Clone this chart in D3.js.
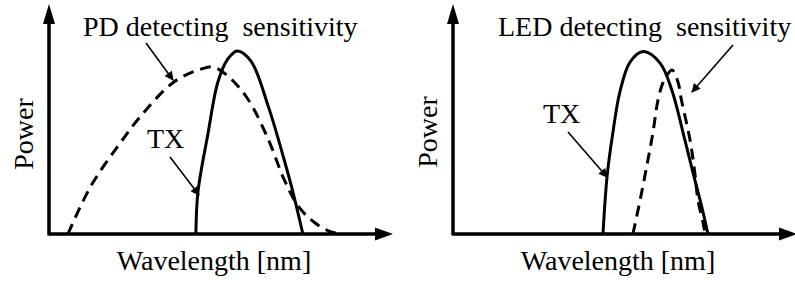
<!DOCTYPE html>
<html>
<head>
<meta charset="utf-8">
<script src="https://cdn.jsdelivr.net/npm/d3@7"></script>
<style>
  html, body { margin: 0; padding: 0; background: #fff; }
  svg { display: block; }
  text { fill: #000; white-space: pre; }
</style>
</head>
<body>
<svg id="chart" width="795" height="284" font-family="'Liberation Serif', 'Times New Roman', Times, serif"></svg>
<script>
// ---- Data (arbitrary units: wavelength 0..100, power 0..100) ----
const pdSensWavelength = [5.5, 12.2, 20.1, 26.7, 36.3, 44.2, 47.7, 52.0, 57.8, 63.7, 68.3, 72.4, 77.0, 82.0, 85.5];
const pdSensPower      = [0,   20.9, 38.3, 51.3, 66.1, 71.7, 72.6, 68.7, 58.7, 41.3, 23.9, 12.2, 5.2,  0.9,  0];

const txLeftWavelength = [42.7, 43.3, 46.2, 49.1, 52.0, 54.7, 58.7, 63.7, 68.3, 71.2, 73.8];
const txLeftPower      = [0,    18.3, 43.5, 66.1, 76.1, 79.6, 75.2, 55.7, 32.6, 16.5, 0];

const txRightWavelength = [43.6, 44.8, 46.5, 48.5, 51.5, 55.3, 60.2, 63.6, 67.4, 69.8, 72.3, 74.1];
const txRightPower      = [0,    25.2, 44.3, 61.7, 74.8, 79.3, 74.3, 62.6, 40.9, 26.5, 11.9, 0];

const ledSensWavelength = [52.3, 54.4, 56.3, 58.1, 59.6, 61.0, 62.2, 63.7, 65.4, 66.4, 68.9, 70.3, 71.2, 72.7, 73.3];
const ledSensPower      = [0,    14.8, 29.3, 43.9, 58.3, 65.7, 69.1, 71.3, 66.1, 58.3, 40.9, 26.5, 14.8, 4.8,  0];

const xAxisLabel = "Wavelength [nm]";
const yAxisLabel = "Power";
const leftTitle  = "PD detecting  sensitivity";
const rightTitle = "LED detecting  sensitivity";
const txLabel    = "TX";

const zip = (xs, ys) => xs.map((x, i) => ({ x, y: ys[i] }));

const svg = d3.select("#chart");

// arrowhead marker for annotation arrows
const defs = svg.append("defs");
defs.append("marker")
  .attr("id", "ah")
  .attr("viewBox", "0 0 10 10")
  .attr("refX", 9).attr("refY", 5)
  .attr("markerUnits", "userSpaceOnUse")
  .attr("markerWidth", 11).attr("markerHeight", 9)
  .attr("orient", "auto")
  .append("path").attr("d", "M0,0 L10,5 L0,10 Z").attr("fill", "#000");

function panel(cfg) {
  const x = d3.scaleLinear().domain([0, 100]).range([cfg.x0, cfg.x0 + 344]);
  const y = d3.scaleLinear().domain([0, 100]).range([234, 4]);
  const g = svg.append("g");

  const [xa, xb] = x.range();
  const [yb, ya] = y.range();
  // axes
  g.append("line").attr("x1", xa).attr("y1", yb).attr("x2", xb - 14).attr("y2", yb)
    .attr("stroke", "#000").attr("stroke-width", 3.5);
  g.append("line").attr("x1", xa).attr("y1", yb + 1.5).attr("x2", xa).attr("y2", ya + 16)
    .attr("stroke", "#000").attr("stroke-width", 3.5);
  g.append("path")
    .attr("d", `M${xb},${yb} L${xb - 18},${yb - 6.5} L${xb - 18},${yb + 6.5} Z`).attr("fill", "#000");
  g.append("path")
    .attr("d", `M${xa},${ya} L${xa - 6},${ya + 20} L${xa + 6},${ya + 20} Z`).attr("fill", "#000");

  const line = d3.line().x(d => x(d.x)).y(d => y(d.y)).curve(d3.curveCatmullRom.alpha(0.5));

  g.append("path").datum(cfg.dashed)
    .attr("d", line).attr("fill", "none").attr("stroke", "#000")
    .attr("stroke-width", 3).attr("stroke-dasharray", "11,7");
  g.append("path").datum(cfg.solid)
    .attr("d", line).attr("fill", "none").attr("stroke", "#000")
    .attr("stroke-width", 3).attr("stroke-linejoin", "round");

  // labels
  g.append("text").attr("x", cfg.titleX).attr("y", 36).attr("font-size", 28).text(cfg.title);
  g.append("text").attr("x", (xa + xb) / 2 - 7).attr("y", 270)
    .attr("text-anchor", "middle").attr("font-size", 28).text(xAxisLabel);
  g.append("text").attr("transform", `translate(${xa - 16},${cfg.powerY}) rotate(-90)`)
    .attr("text-anchor", "middle").attr("font-size", 28).text(yAxisLabel);
  g.append("text").attr("x", cfg.txX).attr("y", cfg.txY).attr("font-size", 28).text(txLabel);

  // annotation arrows
  cfg.arrows.forEach(a => {
    g.append("line").attr("x1", a[0]).attr("y1", a[1]).attr("x2", a[2]).attr("y2", a[3])
      .attr("stroke", "#000").attr("stroke-width", 1.6).attr("marker-end", "url(#ah)");
  });
}

panel({
  x0: 49,
  solid: zip(txLeftWavelength, txLeftPower),
  dashed: zip(pdSensWavelength, pdSensPower),
  title: leftTitle, titleX: 83,
  powerY: 134,
  txX: 147, txY: 148,
  arrows: [[146, 43, 173, 80], [170, 157, 199, 195]]
});

panel({
  x0: 453,
  solid: zip(txRightWavelength, txRightPower),
  dashed: zip(ledSensWavelength, ledSensPower),
  title: rightTitle, titleX: 498,
  powerY: 132,
  txX: 543, txY: 123,
  arrows: [[733, 45, 692, 92], [568, 132, 607, 177]]
});
</script>
</body>
</html>
